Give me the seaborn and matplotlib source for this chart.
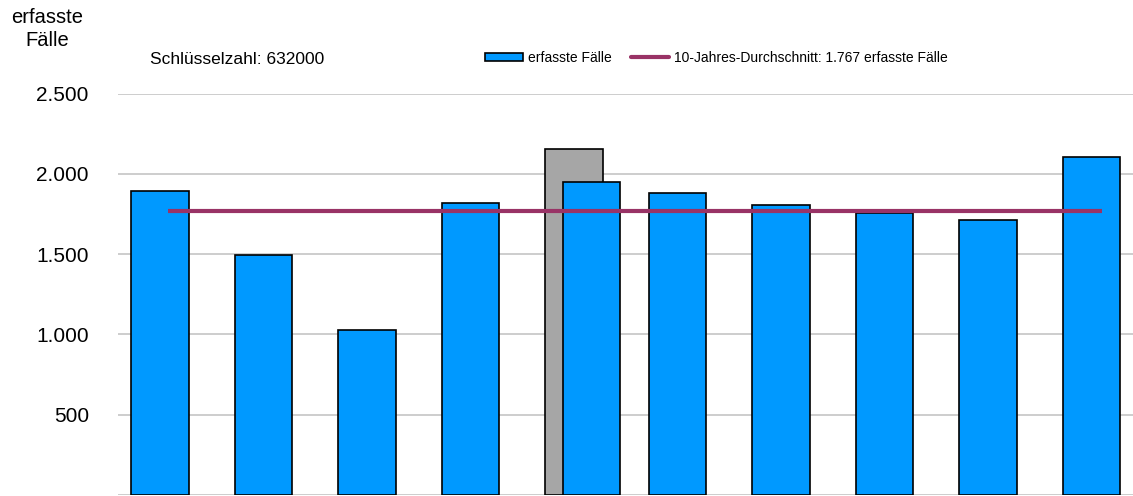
import numpy as np
import pandas as pd
import seaborn as sns
import matplotlib.pyplot as plt
from matplotlib.patches import Patch
from matplotlib.lines import Line2D
from matplotlib.ticker import FuncFormatter

jahre = ['2014', '2015', '2016', '2017', '2018', '2019', '2020', '2021', '2022', '2023']
faelle = [1891, 1496, 1029, 1820, 1951, 1880, 1808, 1758, 1712, 2107]
# grauer Balken hinter dem 5. Jahr
grau_jahr = ['2018']
grau_wert = [2153]
durchschnitt = 1767
schluesselzahl = '632000'

blau = '#0099FF'
grau = '#A6A6A6'
lila = '#993366'
gitter = '#C0C0C0'

sns.set_theme(style='white')
plt.rcParams['font.family'] = ['Liberation Sans', 'DejaVu Sans']
plt.rcParams['text.color'] = 'black'

df = pd.DataFrame({'Jahr': jahre, 'Faelle': faelle})
df_grau = pd.DataFrame({'Jahr': grau_jahr, 'Faelle': grau_wert})

fig = plt.figure(figsize=(11.33, 4.96), dpi=100)
ax = fig.add_axes([118 / 1133, 1 / 496, 1 - 118 / 1133, (495 - 93.7) / 496])

sns.barplot(data=df_grau, x='Jahr', y='Faelle', order=jahre, color=grau, saturation=1,
            width=0.556, edgecolor='black', linewidth=1.2, ax=ax, zorder=2)
n_grau = len(ax.patches)
sns.barplot(data=df, x='Jahr', y='Faelle', order=jahre, color=blau, saturation=1,
            width=0.556, edgecolor='black', linewidth=1.2, ax=ax, zorder=3)

# blauer Balken im Jahr mit grauem Balken ist etwas nach rechts versetzt
blaue = ax.patches[n_grau:]
for p in blaue:
    cx = p.get_x() + p.get_width() / 2
    if jahre[int(round(cx))] in grau_jahr:
        p.set_x(p.get_x() + 0.17)

ax.hlines(durchschnitt, 0.08, len(jahre) - 0.9, color=lila, linewidth=3, zorder=4)

ax.set_xlim(-0.4057, 9.40)
ax.set_ylim(0, 2500)
ax.set_yticks([500, 1000, 1500, 2000, 2500])
ax.yaxis.set_major_formatter(FuncFormatter(lambda v, _: f'{int(v):,}'.replace(',', '.')))
ax.grid(axis='y', color=gitter, linewidth=1.1, zorder=0)
ax.axhline(0, color=gitter, linewidth=1.1, zorder=1)
ax.set_axisbelow(True)
ax.tick_params(axis='y', length=0, pad=21, labelsize=15, labelcolor='black')
ax.set_xticks([])
ax.set_xlabel('')
ax.set_ylabel('')
sns.despine(ax=ax, left=True, bottom=True)

fig.text(47 / 1133, 1 - 29 / 496, 'erfasste\nFälle', ha='center', va='center',
         fontsize=14.5, linespacing=1.25, color='black')
fig.text(150 / 1133, 1 - 60 / 496, 'Schlüsselzahl: ' + schluesselzahl, ha='left', va='center',
         fontsize=12.5, color='black')

handles = [Patch(facecolor=blau, edgecolor='black', linewidth=1.2),
           Line2D([0], [0], color=lila, linewidth=3)]
labels = ['erfasste Fälle', f'10-Jahres-Durchschnitt: {durchschnitt:,} erfasste Fälle'.replace(',', '.')]
leg = fig.legend(handles, labels, loc='center left', bbox_to_anchor=(485 / 1133, 1 - 58 / 496),
                 ncol=2, frameon=False, fontsize=10, handlelength=2.7, handleheight=0.55,
                 handletextpad=0.4, columnspacing=1.4, borderaxespad=0, borderpad=0)
for t in leg.get_texts():
    t.set_color('black')

fig.savefig('out.png', dpi=100)
